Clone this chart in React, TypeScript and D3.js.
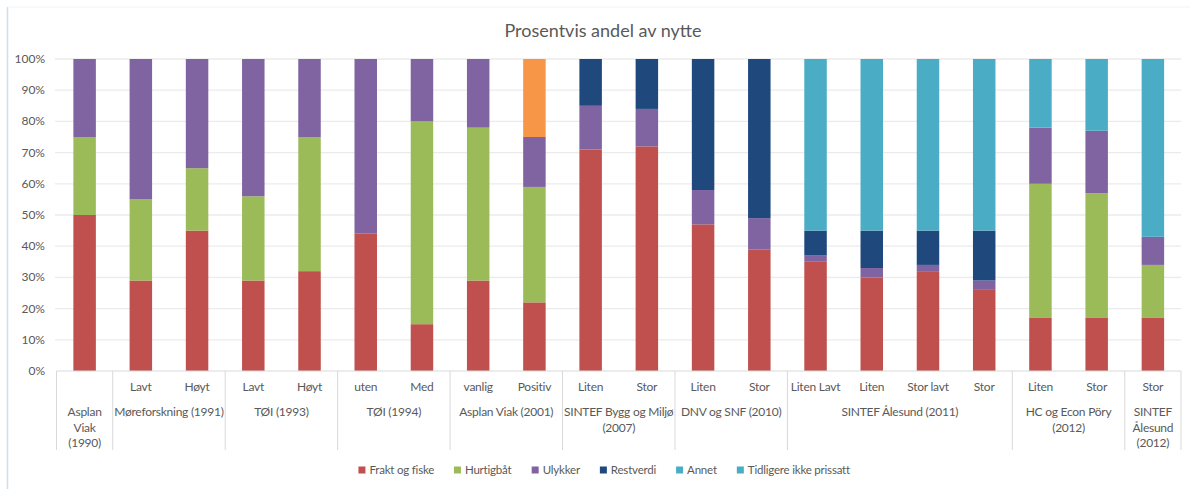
import * as React from "react";
import { scaleBand, scaleLinear, stack, format, range } from "d3";

const subLabels = ["", "Lavt", "Høyt", "Lavt", "Høyt", "uten", "Med", "vanlig", "Positiv", "Liten", "Stor", "Liten", "Stor", "Liten Lavt", "Liten", "Stor lavt", "Stor", "Liten", "Stor", "Stor"];
const groupLabels = ["Asplan\nViak\n(1990)", "Møreforskning (1991)", "TØI (1993)", "TØI (1994)", "Asplan Viak (2001)", "SINTEF Bygg og Miljø\n(2007)", "DNV og SNF (2010)", "SINTEF Ålesund (2011)", "HC og Econ Pöry\n(2012)", "SINTEF\nÅlesund\n(2012)"];
const groupSizes = [1, 2, 2, 2, 2, 2, 2, 4, 2, 1];

const seriesNames = ["Frakt og fiske", "Hurtigbåt", "Ulykker", "Restverdi", "Annet", "Tidligere ikke prissatt"];
const frakt = [50, 29, 45, 29, 32, 44, 15, 29, 22, 71, 72, 47, 39, 35, 30, 32, 26, 17, 17, 17];
const hurtigbat = [25, 26, 20, 27, 43, 0, 65, 49, 37, 0, 0, 0, 0, 0, 0, 0, 0, 43, 40, 17];
const ulykker = [25, 45, 35, 44, 25, 56, 20, 22, 16, 14, 12, 11, 10, 2, 3, 2, 3, 18, 20, 9];
const restverdi = [0, 0, 0, 0, 0, 0, 0, 0, 0, 15, 16, 42, 51, 8, 12, 11, 16, 0, 0, 0];
const annet = [0, 0, 0, 0, 0, 0, 0, 0, 25, 0, 0, 0, 0, 0, 0, 0, 0, 0, 0, 0];
const tidligere = [0, 0, 0, 0, 0, 0, 0, 0, 0, 0, 0, 0, 0, 55, 55, 55, 55, 22, 23, 57];
const yTicks = [0, 0.1, 0.2, 0.3, 0.4, 0.5, 0.6, 0.7, 0.8, 0.9, 1];

const barColors = ["#C0504D", "#9BBB59", "#8064A2", "#1F497D", "#F79646", "#4BACC6"];
const legendColors = ["#C0504D", "#9BBB59", "#8064A2", "#1F497D", "#4BACC6", "#4BACC6"];

const W = 1190;
const H = 489;
const FONT = "Lato, 'Open Sans', sans-serif";
const TEXT = "#595959";
const LABEL_SIZE = 12;
const LABEL_LS = -0.25;
const LEG_SIZE = 11.5;
const LEG_LS = -0.2;

const textWidth = (s: string, size: number, ls: number) => {
  const c = document.createElement("canvas").getContext("2d");
  if (!c) return s.length * size * 0.5;
  c.font = `${size}px Lato`;
  return c.measureText(s).width + ls * s.length;
};

export default function App() {
  const seriesData = [frakt, hurtigbat, ulykker, restverdi, annet, tidligere];
  const rows = subLabels.map((_, i) => {
    const r: any = { i };
    seriesNames.forEach((n, s) => (r[n] = seriesData[s][i] / 100));
    return r;
  });
  const stacked = stack<any>().keys(seriesNames)(rows);

  const x = scaleBand<string>()
    .domain(range(subLabels.length).map(String))
    .range([56.5, 1181])
    .paddingInner(0.6)
    .paddingOuter(0.3);
  const y = scaleLinear().domain([0, 1]).range([371, 59]);
  const step = x.step();
  const x0 = 56.5;
  const pct = format(".0%");

  // group boundaries
  const starts: number[] = [];
  let acc = 0;
  groupSizes.forEach((g) => {
    starts.push(acc);
    acc += g;
  });

  // legend layout
  const itemW = seriesNames.map((n) => 7 + 4 + textWidth(n, LEG_SIZE, LEG_LS));
  const gap = 20;
  const totalW = itemW.reduce((a, b) => a + b, 0) + gap * (itemW.length - 1);
  let lx = 604 - totalW / 2;
  const legendPos = itemW.map((w) => {
    const p = lx;
    lx += w + gap;
    return p;
  });

  return (
    <svg width={W} height={H} style={{ position: "absolute", left: 0, top: 0, background: "#fff", fontFamily: FONT }}>
      <line x1={7.5} x2={7.5} y1={7} y2={H} stroke="#D3DDEA" strokeWidth={1.5} />
      <line x1={7.5} x2={W} y1={7} y2={7} stroke="#F0F3F7" strokeWidth={1} />
      <text x={603} y={37} textAnchor="middle" fontSize={18} fill={TEXT}>
        Prosentvis andel av nytte
      </text>

      {yTicks.map((t) => (
        <g key={t}>
          {t > 0 && <line x1={55} x2={1181} y1={y(t)} y2={y(t)} stroke="#EBEBEB" strokeWidth={1.3} />}
          <text x={45} y={y(t) + 4} textAnchor="end" fontSize={12} fill={TEXT}>
            {pct(t)}
          </text>
        </g>
      ))}

      {stacked.map((s, si) => (
        <g key={s.key} fill={barColors[si]}>
          {s.map((d, i) =>
            d[1] - d[0] > 0 ? (
              <rect key={i} x={x(String(i))} width={x.bandwidth()} y={y(d[1])} height={y(d[0]) - y(d[1])} />
            ) : null
          )}
        </g>
      ))}

      <line x1={56.5} x2={1181} y1={371} y2={371} stroke="#D9D9D9" strokeWidth={1} />
      {[...starts, subLabels.length].map((k) => (
        <line key={k} x1={x0 + k * step} x2={x0 + k * step} y1={371} y2={450} stroke="#D9D9D9" strokeWidth={1} />
      ))}

      {subLabels.map((l, i) => (
        <text key={i} x={(x(String(i)) as number) + x.bandwidth() / 2} y={391} textAnchor="middle" fontSize={LABEL_SIZE} letterSpacing={LABEL_LS} fill={TEXT}>
          {l}
        </text>
      ))}

      {groupLabels.map((g, gi) => {
        const cx = x0 + (starts[gi] + groupSizes[gi] / 2) * step;
        return (
          <text key={gi} textAnchor="middle" fontSize={LABEL_SIZE} letterSpacing={LABEL_LS} fill={TEXT}>
            {g.split("\n").map((line, li) => (
              <tspan key={li} x={cx} y={416 + li * 15.6}>
                {line}
              </tspan>
            ))}
          </text>
        );
      })}

      {seriesNames.map((n, i) => (
        <g key={n} transform={`translate(${legendPos[i]},470)`}>
          <rect x={0} y={-3.5} width={7} height={7} fill={legendColors[i]} />
          <text x={11} y={4} fontSize={LEG_SIZE} letterSpacing={LEG_LS} fill={TEXT}>
            {n}
          </text>
        </g>
      ))}
    </svg>
  );
}
